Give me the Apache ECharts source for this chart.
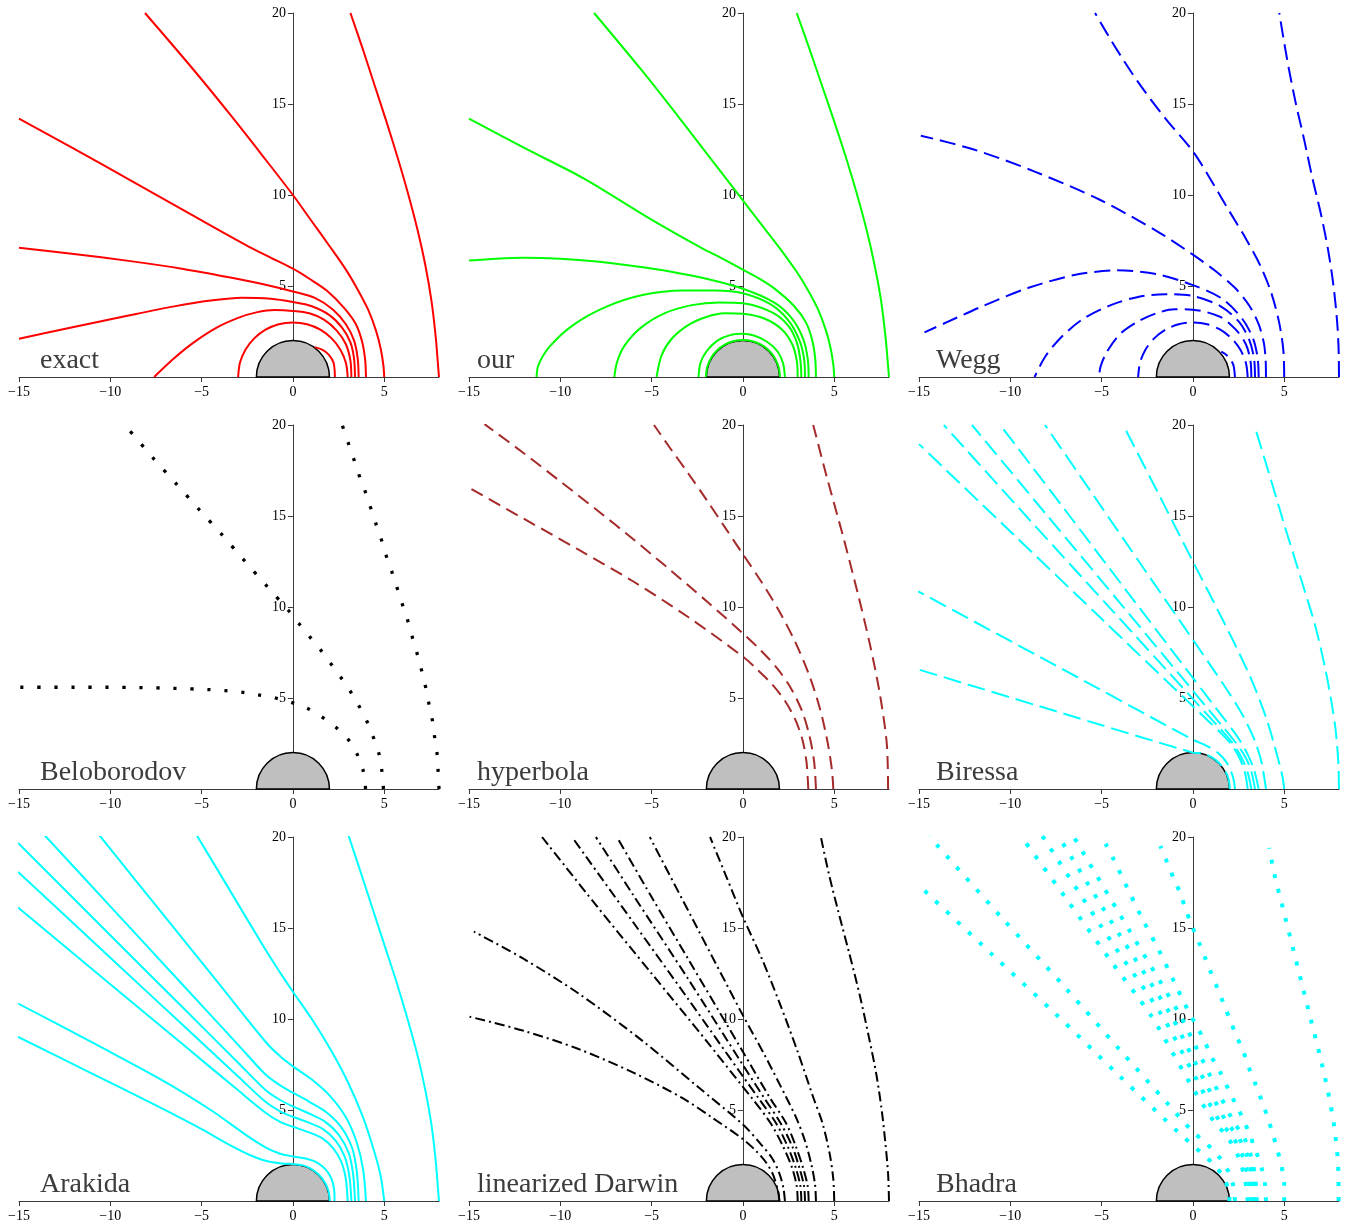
<!DOCTYPE html>
<html>
<head>
<meta charset="utf-8">
<title>Light rays near a Schwarzschild black hole</title>
<script src="https://cdn.jsdelivr.net/npm/echarts@6/dist/echarts.min.js"></script>
<style>
  html, body { margin: 0; padding: 0; background: #ffffff; }
  #chart { width: 1350px; height: 1228px; }
</style>
</head>
<body>
<div id="chart"></div>
<script>
// Panel captions, in reading order (row by row)
const panelNames = ['exact', 'our', 'Wegg', 'Beloborodov', 'hyperbola', 'Biressa', 'Arakida', 'linearized Darwin', 'Bhadra'];

// Axis ticks shared by every panel
const xTicks = [-15, -10, -5, 0, 5];
const yTicks = [5, 10, 15, 20];
const xRange = [-15, 8];
const yRange = [0, 20];
const horizonRadius = 2;

// Ray paths [x, y] for each approximation (emission radii 2, 2.3, 3, 3.2, 3.4, 3.6, 4, 5, 8)
const exactRays = [
  [[2.3,0],[2.23,0.77],[1.97,1.22],[1.6,1.5],[1.2,1.64]],
  [[3,0],[2.9,0.78],[2.6,1.5],[2.12,2.12],[1.5,2.6],[0.78,2.9],[0,3],[-0.78,2.9],[-1.5,2.6],[-2.12,2.12],[-2.6,1.5],[-2.9,0.78],[-3,0]],
  [[3.2,0],[3.15,0.9],[2.9,1.8],[2.4,2.55],[1.7,3.15],[0.9,3.5],[0,3.63],[-1,3.68],[-2,3.55],[-3,3.25],[-4.2,2.7],[-5.5,1.85],[-6.6,0.95],[-7.6,0]],
  [[3.4,0],[3.35,1],[3.15,1.9],[2.7,2.7],[2,3.4],[1,3.9],[0,4.12],[-1.2,4.3],[-2.8,4.36],[-4.5,4.2],[-6.5,3.88],[-9,3.38],[-12,2.75],[-15,2.1]],
  [[3.6,0],[3.55,1],[3.35,2],[2.9,2.9],[2.2,3.7],[1.2,4.35],[0,4.7],[-1.5,5.07],[-3.5,5.48],[-6,5.94],[-9,6.38],[-12,6.76],[-15,7.1]],
  [[4,0],[3.96,0.9],[3.8,1.9],[3.45,2.9],[2.8,3.8],[1.85,4.75],[0.9,5.4],[0,5.95],[-1.2,6.55],[-2.4,7.15],[-5,8.6],[-8.7,10.7],[-12,12.55],[-15,14.2]],
  [[5,0],[4.96,0.6],[4.82,1.5],[4.55,2.55],[4.12,3.7],[3.55,4.8],[2.9,5.9],[2,7.2],[1,8.6],[0,10],[-1.5,11.95],[-3.3,14.25],[-5.5,16.95],[-8.1,20]],
  [[8,0],[7.95,0.6],[7.83,2.1],[7.6,4.1],[7.26,6.1],[6.82,8.1],[6.3,10.1],[5.72,12.1],[5.1,14.1],[4.45,16.1],[3.8,18.1],[3.15,20]]
];

const ourRays = [
  [[2.03,0],[1.96,0.53],[1.76,1.02],[1.44,1.44],[1.02,1.76],[0.53,1.96],[0,2.03],[-0.53,1.96],[-1.02,1.76],[-1.44,1.44],[-1.76,1.02],[-1.96,0.53],[-2.03,0]],
  [[2.3,0],[2.2,0.75],[1.9,1.4],[1.3,1.95],[0.6,2.28],[0,2.37],[-0.7,2.3],[-1.4,2],[-2,1.4],[-2.33,0.75],[-2.43,0]],
  [[3,0],[2.95,0.9],[2.7,1.8],[2.15,2.6],[1.2,3.2],[0,3.47],[-1,3.5],[-2,3.3],[-3,2.85],[-3.9,2.1],[-4.45,1.2],[-4.73,0]],
  [[3.2,0],[3.15,0.9],[2.95,1.9],[2.5,2.8],[1.6,3.55],[0,4.05],[-1.3,4.1],[-2.8,3.95],[-4.3,3.5],[-5.6,2.7],[-6.5,1.7],[-6.9,0.8],[-7.04,0]],
  [[3.4,0],[3.35,1],[3.1,2],[2.5,3.1],[1.5,4],[0,4.6],[-1.5,4.75],[-3.3,4.75],[-5.5,4.5],[-7.5,3.85],[-9.3,2.85],[-10.6,1.65],[-11.2,0.65],[-11.3,0]],
  [[3.6,0],[3.55,1],[3.3,2.1],[2.7,3.2],[1.7,4.1],[0,4.85],[-2,5.4],[-4,5.8],[-6,6.1],[-8,6.35],[-10,6.5],[-12,6.55],[-13.5,6.5],[-15,6.4]],
  [[4,0],[3.96,1],[3.8,2],[3.45,3],[2.8,3.9],[1.8,4.8],[0.9,5.4],[0,5.9],[-1.2,6.55],[-2.2,7.05],[-5.1,8.7],[-8.7,10.9],[-12,12.6],[-15,14.2]],
  [[5,0],[4.96,0.6],[4.82,1.5],[4.55,2.55],[4.12,3.7],[3.55,4.8],[2.9,5.85],[2,7.1],[1,8.4],[0,9.7],[-1.5,11.65],[-3.3,14],[-5.5,16.8],[-8.15,20]],
  [[8,0],[7.95,0.6],[7.82,2.1],[7.58,4.1],[7.22,6.1],[6.77,8.1],[6.23,10.1],[5.63,12.1],[4.98,14.1],[4.3,16.1],[3.62,18.1],[2.95,20]]
];

const weggRays = [
  [[2.3,0],[2.22,0.65],[2,1.05],[1.75,1.28],[1.55,1.4]],
  [[3,0],[2.9,0.78],[2.6,1.5],[2.12,2.12],[1.5,2.6],[0.78,2.9],[0,3],[-0.78,2.9],[-1.5,2.6],[-2.12,2.12],[-2.6,1.5],[-2.9,0.78],[-3,0]],
  [[3.2,0],[3.15,0.9],[2.9,1.8],[2.35,2.6],[1.5,3.3],[0,3.7],[-1,3.72],[-2,3.5],[-3,3.05],[-4,2.35],[-4.7,1.4],[-5.05,0.6],[-5.15,0]],
  [[3.4,0],[3.35,1],[3.1,2],[2.55,3],[1.5,3.9],[0,4.45],[-1.5,4.55],[-3,4.4],[-4.5,3.95],[-6,3.2],[-7.2,2.2],[-8.1,1.1],[-8.67,0]],
  [[3.6,0],[3.55,1],[3.3,2.1],[2.7,3.2],[1.6,4.3],[0,5.05],[-2,5.65],[-4.2,5.86],[-6.5,5.6],[-9,4.9],[-11.5,3.9],[-13.5,3],[-14.7,2.45]],
  [[4,0],[3.98,1],[3.88,1.9],[3.6,2.9],[3.1,3.9],[2.3,4.9],[1.2,5.85],[0,6.72],[-1.8,7.91],[-5.1,9.74],[-8.7,11.3],[-12,12.5],[-14.9,13.26]],
  [[5,0],[4.95,1.5],[4.72,3],[4.3,4.6],[3.7,6.1],[2.9,7.6],[2,9.1],[1,10.8],[0,12.4],[-1.5,14.2],[-3,16.2],[-4.3,18.2],[-5.36,20]],
  [[8,0],[7.98,1.5],[7.9,3],[7.7,5],[7.4,7],[7,9],[6.55,10.9],[6.1,13],[5.6,15.2],[5.15,17.5],[4.73,20]]
];

const beloborodovRays = [
  [[3.98,0],[3.85,1],[3.53,1.89],[3.04,2.71],[2.4,3.35],[1.62,3.94],[0.85,4.4],[0,4.73],[-0.95,5],[-1.84,5.16],[-2.73,5.31],[-3.67,5.4],[-4.6,5.46],[-6.49,5.53],[-8.36,5.57],[-10.2,5.59],[-12.05,5.59],[-15,5.59]],
  [[4.96,0],[4.87,1],[4.72,1.9],[4.42,2.8],[4.07,3.68],[3.64,4.52],[3.18,5.31],[2.65,6.1],[2.09,6.87],[1.53,7.62],[0.95,8.33],[0.36,9.05],[-0.22,9.78],[-1.45,11.17],[-2.67,12.56],[-3.9,13.99],[-5.15,15.37],[-6.4,16.78],[-7.64,18.17],[-9.2,20]],
  [[8,0],[7.95,1],[7.9,1.9],[7.76,2.85],[7.64,3.76],[7.45,4.67],[7.27,5.58],[7.05,6.5],[6.82,7.37],[6.56,8.27],[6.31,9.18],[6.02,10.07],[5.73,10.97],[5.44,11.87],[5.13,12.75],[4.86,13.65],[4.56,14.53],[4.27,15.41],[3.98,16.29],[3.65,17.17],[3.35,18.08],[3.05,18.96],[2.7,20]]
];

const hyperbolaRays = [
  [[3.58,0],[3.48,1.5],[3.25,2.75],[2.85,3.85],[2.3,4.85],[1.6,5.75],[0.8,6.55],[0,7.27],[-3,9.45],[-6,11.4],[-9,13.15],[-12,14.85],[-14.9,16.5]],
  [[4,0],[3.9,1.5],[3.65,2.9],[3.25,4.25],[2.65,5.5],[1.9,6.6],[1,7.6],[0,8.55],[-2,10.33],[-4,12.05],[-6,13.72],[-8,15.33],[-10,16.9],[-12,18.45],[-14.15,20.05]],
  [[4.95,0],[4.88,1],[4.65,2.5],[4.25,4.3],[3.65,6.2],[2.9,8],[2,9.75],[1,11.4],[0,12.9],[-1,14.4],[-2,15.9],[-3,17.35],[-4,18.75],[-4.87,20]],
  [[7.95,0],[7.88,2.47],[7.5,5.22],[6.95,7.97],[6.3,10.71],[5.5,13.83],[4.6,17.12],[3.85,20]]
];

const biressaRays = [
  [[2.02,0],[1.95,0.55],[1.75,1.02],[1.42,1.44],[1,1.76],[0.5,1.95],[0,2],[-7.5,4.27],[-15,6.56]],
  [[2.3,0],[2.27,0.3],[2.15,0.8],[1.85,1.45],[1.35,2],[0.7,2.4],[0,2.71],[-7.5,6.78],[-15.05,10.86]],
  [[3,0],[2.85,0.9],[2.55,1.7],[2.1,2.45],[1.5,3.1],[0.8,3.78],[0,4.55],[-5,9.35],[-10,14.15],[-15,18.95]],
  [[3.2,0],[3,0.9],[2.65,1.75],[2.15,2.55],[1.5,3.3],[0.8,4.07],[0,4.95],[-4.5,9.9],[-9,14.85],[-13.64,20]],
  [[3.4,0],[3.2,0.95],[2.85,1.8],[2.3,2.6],[1.6,3.47],[0.8,4.43],[0,5.4],[-4,10.23],[-8,15.05],[-12.1,20]],
  [[3.6,0],[3.35,1.05],[2.95,2],[2.35,3],[1.6,4],[0.8,5.05],[0,6.1],[-3.5,10.71],[-7,15.33],[-10.55,20]],
  [[4,0],[3.75,1.5],[3.35,2.75],[2.7,4.1],[1.9,5.4],[1,6.74],[0,8.2],[-2.7,12.13],[-5.4,16.07],[-8.1,20]],
  [[5,0],[4.9,0.7],[4.6,1.9],[4.05,3.8],[3.25,5.9],[2.3,7.95],[1.2,10.15],[0,12.5],[-1.9,16.25],[-3.82,20]],
  [[8,0],[7.96,1.5],[7.82,3.2],[7.6,4.7],[7.25,6.6],[6.73,8.85],[6.15,10.8],[5.55,12.75],[4.95,14.7],[4.3,16.9],[3.36,20]]
];

const arakidaRays = [
  [[2.02,0],[1.95,0.55],[1.75,1.02],[1.42,1.44],[1,1.77],[0.5,1.97],[0,2.03],[-0.6,2.06],[-1.4,2.18],[-2.3,2.5],[-3.5,3.1],[-5,3.95],[-7.5,5.25],[-11,7],[-15.05,9.02]],
  [[2.28,0],[2.26,0.6],[2.12,1.2],[1.8,1.72],[1.3,2.12],[0.7,2.33],[0,2.45],[-0.7,2.6],[-1.5,2.95],[-2.6,3.65],[-4.5,5],[-7,6.55],[-10.5,8.45],[-15.05,10.85]],
  [[3,0],[2.9,1.2],[2.65,2.15],[2.2,2.9],[1.6,3.45],[0.8,3.8],[0,4.08],[-0.7,4.35],[-1.5,4.85],[-3,6.08],[-6,8.58],[-10,11.91],[-15.05,16.12]],
  [[3.2,0],[3.1,1.3],[2.85,2.4],[2.35,3.3],[1.65,3.95],[0.8,4.33],[0,4.63],[-0.7,4.93],[-1.5,5.45],[-3,6.84],[-6,9.64],[-10,13.37],[-15.05,18.08]],
  [[3.4,0],[3.3,1.45],[3.05,2.65],[2.5,3.65],[1.7,4.4],[0.8,4.85],[0,5.2],[-0.7,5.55],[-1.5,6.1],[-3,7.6],[-6,10.6],[-10,14.6],[-15.05,19.67]],
  [[3.6,0],[3.5,1.6],[3.25,2.9],[2.65,4.05],[1.8,4.9],[0.9,5.45],[0,5.95],[-0.7,6.35],[-1.5,6.95],[-3,8.58],[-6,11.84],[-10,16.19],[-13.6,20.1]],
  [[4,0],[3.85,1.7],[3.5,3.2],[2.9,4.6],[2,5.8],[1,6.7],[0,7.4],[-0.7,7.95],[-1.5,8.75],[-4,11.87],[-7,15.61],[-10.6,20.1]],
  [[5,0],[4.8,1.4],[4.4,2.9],[3.8,4.7],[3,6.55],[2.1,8.25],[1.1,9.9],[0,11.5],[-0.7,12.55],[-1.5,13.8],[-3.5,17.15],[-5.27,20.1]],
  [[8,0],[7.95,0.6],[7.83,2.1],[7.6,4.1],[7.25,6.1],[6.8,8.1],[6.25,10.1],[5.65,12.1],[5,14.1],[4.35,16.1],[3.7,18.1],[3.04,20.1]]
];

const darwinRays = [
  [[2,0],[1.92,0.55],[1.65,1.45],[1.28,2.1],[0.73,2.74],[0,3.4],[-1.64,4.55],[-3.3,5.65],[-6,7.05],[-9,8.35],[-12,9.35],[-15.07,10.15]],
  [[2.3,0],[2.22,0.7],[2,1.5],[1.6,2.35],[1,3.1],[0,4.2],[-2.5,6.3],[-5.5,8.8],[-9,11.4],[-12,13.3],[-14.73,14.8]],
  [[3,0],[2.95,0.8],[2.7,1.8],[2.2,3],[1.5,4.3],[0.46,5.7],[0,6.27],[-2,8.8],[-5,12.5],[-8,16.2],[-11,20]],
  [[3.2,0],[3.15,0.8],[2.9,1.8],[2.45,3],[1.8,4.3],[0.82,5.7],[0,6.85],[-3,11.1],[-6,15.3],[-9.36,20]],
  [[3.4,0],[3.35,0.8],[3.1,1.8],[2.7,3],[2.05,4.3],[1.14,5.7],[0,7.47],[-3,12.2],[-6,16.8],[-8.05,20]],
  [[3.6,0],[3.55,0.8],[3.3,1.8],[2.9,3],[2.35,4.3],[1.46,5.7],[0,8.2],[-3,13.3],[-5,16.7],[-6.9,20]],
  [[4,0],[3.95,0.9],[3.75,2],[3.4,3.3],[2.95,4.5],[2.37,5.7],[1.2,8],[0,10.2],[-2.5,15],[-5.1,20]],
  [[5,0],[4.95,1.2],[4.75,2.6],[4.35,4.3],[3.85,5.7],[3,8.2],[2,10.9],[1,13.4],[0,15.6],[-0.9,17.8],[-1.8,20]],
  [[8,0],[7.95,1.5],[7.8,3.2],[7.6,5],[7.3,7],[6.9,9],[6.4,11.3],[5.8,13.7],[5.2,16],[4.7,18],[4.27,20]]
];

const bhadraRays = [
  [[2,0],[1.95,0.6],[1.7,1.25],[1.2,1.95],[0.5,2.6],[0,3.05],[-0.75,3.73],[-4,6.85],[-7.47,10.23],[-11,13.55],[-14.96,17.3]],
  [[2.3,0],[2.22,0.8],[1.95,1.6],[1.45,2.4],[0.7,3.2],[0,3.8],[-1.42,5.39],[-4,8.3],[-6.96,11.69],[-10.5,15.6],[-14.45,20.05]],
  [[3,0],[2.85,1.2],[2.5,2.4],[1.9,3.5],[1.13,4.4],[0,6.2],[-1.2,8.3],[-2.3,10.2],[-4.5,13.2],[-7,16.7],[-9.29,19.87]],
  [[3.2,0],[3.05,1.2],[2.75,2.4],[2.2,3.5],[1.45,4.4],[0,7.05],[-1.7,10.2],[-4.5,14.3],[-8.36,20.24]],
  [[3.35,0],[3.25,1.2],[3,2.4],[2.5,3.5],[1.8,4.4],[0,7.85],[-1.2,10.2],[-4,14.6],[-7.2,19.78]],
  [[3.5,0],[3.42,1.2],[3.2,2.4],[2.8,3.5],[2.2,4.4],[0,8.8],[-0.7,10.2],[-3.5,14.9],[-6.55,20.05]],
  [[4,0],[3.95,0.91],[3.76,1.83],[3.45,2.74],[3.09,3.69],[2.73,4.55],[2.31,5.39],[1.91,6.21],[1.49,7.08],[1.04,7.89],[0.64,8.77],[0.22,9.59],[-0.24,10.41],[-1.05,12.09],[-1.87,13.79],[-2.73,15.43],[-3.55,17.11],[-4.36,18.81],[-4.78,19.63]],
  [[5,0],[5,1],[4.85,1.92],[4.62,2.83],[4.36,3.74],[4.07,4.66],[3.76,5.52],[3.44,6.39],[3.09,7.27],[2.76,8.22],[2.4,9.04],[2.05,9.9],[1.71,10.78],[1.36,11.65],[1,12.51],[0.67,13.37],[0.31,14.25],[-0.05,15.12],[-0.38,15.98],[-0.69,16.9],[-1.05,17.72],[-1.42,18.63],[-1.78,19.5]],
  [[7.98,0],[7.95,2],[7.75,4],[7.4,6],[6.95,8],[6.45,10],[5.95,12],[5.45,14],[4.95,16],[4.45,18],[4.18,19.4]]
];

const panelRays = [exactRays, ourRays, weggRays, beloborodovRays, hyperbolaRays, biressaRays, arakidaRays, darwinRays, bhadraRays];

// Stroke style of each panel
const panelStyles = [
  { color: '#ff0000', width: 2, dash: 'solid' },
  { color: '#00ff00', width: 2, dash: 'solid' },
  { color: '#0000ff', width: 2, dash: [16, 7] },
  { color: '#000000', width: 3.3, dash: [3.3, 13.7] },
  { color: '#a52a2a', width: 2, dash: [13, 7] },
  { color: '#00ffff', width: 2, dash: [18, 7] },
  { color: '#00ffff', width: 2, dash: 'solid' },
  { color: '#000000', width: 2, dash: [10, 4, 2, 4] },
  { color: '#00ffff', width: 4, dash: [4, 11] }
];

// Caption offsets from each grid's left edge
const captionOffsets = [21, 8, 17, 21, 8, 17, 21, 8, 17];

const GRID_W = 420, GRID_H = 364;
// the vertical axis sits on x = 0, so shift it in from the grid's left edge
const yAxisShift = -GRID_W * (0 - xRange[0]) / (xRange[1] - xRange[0]);
const grids = [], xAxes = [], yAxes = [], series = [], graphics = [];

function minusFmt(v) {
  return v < 0 ? '\u2212' + Math.abs(v) : String(v);
}

panelNames.forEach(function (name, i) {
  const col = i % 3, row = Math.floor(i / 3);
  const left = 19 + 450 * col, top = 13 + 412 * row;
  grids.push({ left: left, top: top, width: GRID_W, height: GRID_H, containLabel: false });
  xAxes.push({
    type: 'value', gridIndex: i, min: xRange[0], max: xRange[1], interval: 5,
    axisLine: { show: true, onZero: false, lineStyle: { color: '#3a3a3a', width: 1 } },
    axisTick: { show: true, length: 5, customValues: xTicks, lineStyle: { color: '#3a3a3a' } },
    axisLabel: {
      show: true, customValues: xTicks, margin: 8,
      fontFamily: 'Liberation Serif', fontSize: 14, color: '#000',
      formatter: function (v) { return (v % 5 === 0) ? minusFmt(v) : ''; }
    },
    splitLine: { show: false }
  });
  yAxes.push({
    type: 'value', gridIndex: i, min: yRange[0], max: yRange[1], interval: 5,
    position: 'left', offset: yAxisShift,
    axisLine: { show: true, onZero: false, lineStyle: { color: '#3a3a3a', width: 1 } },
    axisTick: { show: true, length: 5, customValues: yTicks, lineStyle: { color: '#3a3a3a' } },
    axisLabel: {
      show: true, customValues: yTicks, margin: 7,
      fontFamily: 'Liberation Serif', fontSize: 14, color: '#000',
      formatter: function (v) { return v === 0 ? '' : String(v); }
    },
    splitLine: { show: false }
  });

  // event horizon, radius 2, drawn as a grey half disc
  series.push({
    type: 'custom', xAxisIndex: i, yAxisIndex: i, z: 1, silent: true,
    data: [[0, 0, horizonRadius]],
    renderItem: function (params, api) {
      const c = api.coord([api.value(0), api.value(1)]);
      const r = api.size([api.value(2), 0])[0];
      return {
        type: 'sector',
        shape: { cx: c[0], cy: c[1], r0: 0, r: r, startAngle: Math.PI, endAngle: 2 * Math.PI, clockwise: true },
        style: { fill: '#bfbfbf', stroke: '#000', lineWidth: 1.5 }
      };
    }
  });

  const st = panelStyles[i];
  panelRays[i].forEach(function (ray) {
    series.push({
      type: 'line', xAxisIndex: i, yAxisIndex: i, z: 3,
      data: ray, smooth: 0.3, showSymbol: false, symbol: 'none', silent: true,
      lineStyle: { color: st.color, width: st.width, type: st.dash, cap: 'butt', join: 'round' }
    });
  });

  graphics.push({
    type: 'text', left: left + captionOffsets[i], top: top + 334,
    style: { text: name, fontFamily: 'Liberation Serif', fontSize: 28, fill: '#3c3c3c' }
  });
});

const chart = echarts.init(document.getElementById('chart'), null, { renderer: 'canvas' });
chart.setOption({
  animation: false,
  backgroundColor: '#ffffff',
  grid: grids,
  xAxis: xAxes,
  yAxis: yAxes,
  series: series,
  graphic: graphics
});
</script>
</body>
</html>
